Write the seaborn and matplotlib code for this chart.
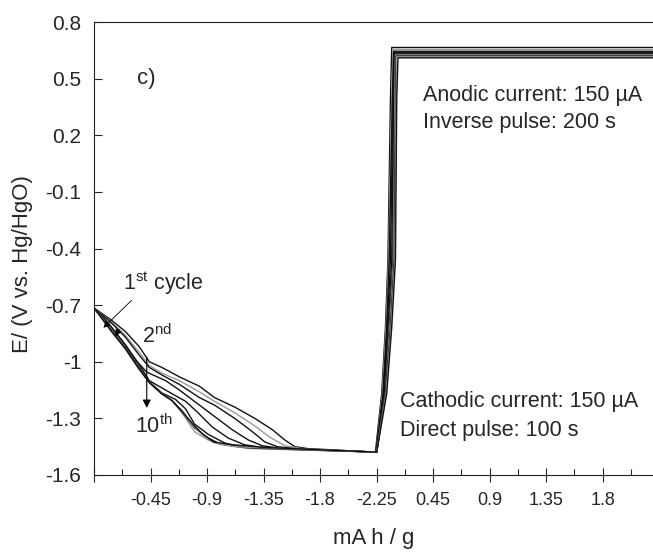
import matplotlib
matplotlib.use("Agg")
import matplotlib.pyplot as plt
import numpy as np
import pandas as pd
import seaborn as sns

# cumulative capacity position (cathodic 0..2.25, then anodic restarts at 2.25)
c1_x = [0, 0.14, 0.25, 0.36, 0.44, 0.54, 0.68, 0.84, 0.96, 1.12, 1.28, 1.42, 1.52, 1.60, 1.70, 2.22, 2.24, 2.29, 2.32, 2.34, 2.36, 2.37, 4.6]
c1_e = [-0.715, -0.78, -0.84, -0.92, -1.00, -1.03, -1.08, -1.13, -1.19, -1.24, -1.30, -1.36, -1.415, -1.45, -1.46, -1.478, -1.48, -1.17, -0.82, -0.46, 0.39, 0.665, 0.665]
c2_x = [0, 0.14, 0.25, 0.36, 0.44, 0.54, 0.68, 0.84, 0.96, 1.12, 1.28, 1.40, 1.52, 1.65, 2.22, 2.245, 2.295, 2.325, 2.345, 2.37, 2.38, 4.6]
c2_e = [-0.715, -0.79, -0.86, -0.95, -1.02, -1.06, -1.10, -1.16, -1.21, -1.27, -1.34, -1.40, -1.445, -1.46, -1.478, -1.48, -1.17, -0.82, -0.46, 0.39, 0.655, 0.655]
c3_x = [0, 0.14, 0.25, 0.36, 0.44, 0.54, 0.68, 0.84, 0.96, 1.12, 1.26, 1.36, 1.46, 1.60, 2.22, 2.245, 2.30, 2.33, 2.35, 2.375, 2.385, 4.6]
c3_e = [-0.715, -0.795, -0.87, -0.965, -1.03, -1.07, -1.12, -1.19, -1.23, -1.30, -1.37, -1.425, -1.45, -1.46, -1.478, -1.48, -1.17, -0.82, -0.46, 0.39, 0.645, 0.645]
c4_x = [0, 0.12, 0.22, 0.33, 0.42, 0.57, 0.68, 0.84, 0.96, 1.10, 1.23, 1.34, 1.50, 2.22, 2.245, 2.305, 2.335, 2.36, 2.38, 2.39, 4.6]
c4_e = [-0.715, -0.80, -0.885, -0.99, -1.055, -1.10, -1.15, -1.23, -1.29, -1.36, -1.415, -1.445, -1.46, -1.478, -1.48, -1.17, -0.82, -0.46, 0.39, 0.64, 0.64]
c5_x = [0, 0.14, 0.25, 0.36, 0.44, 0.57, 0.73, 0.82, 0.94, 1.07, 1.20, 1.40, 2.22, 2.25, 2.31, 2.34, 2.37, 2.385, 2.395, 4.6]
c5_e = [-0.715, -0.82, -0.91, -1.015, -1.10, -1.15, -1.21, -1.265, -1.345, -1.405, -1.44, -1.46, -1.478, -1.48, -1.17, -0.82, -0.46, 0.39, 0.635, 0.635]
c6_x = [0, 0.14, 0.25, 0.36, 0.44, 0.54, 0.65, 0.73, 0.80, 0.91, 1.04, 1.15, 1.35, 2.22, 2.25, 2.315, 2.35, 2.38, 2.39, 2.40, 4.6]
c6_e = [-0.715, -0.83, -0.93, -1.03, -1.105, -1.165, -1.20, -1.25, -1.33, -1.385, -1.43, -1.45, -1.46, -1.478, -1.48, -1.17, -0.82, -0.46, 0.39, 0.63, 0.63]
c7_x = [0, 0.14, 0.25, 0.36, 0.44, 0.54, 0.62, 0.70, 0.80, 0.91, 1.02, 1.25, 2.22, 2.25, 2.32, 2.355, 2.385, 2.395, 2.40, 4.6]
c7_e = [-0.715, -0.83, -0.93, -1.035, -1.11, -1.17, -1.205, -1.27, -1.37, -1.415, -1.44, -1.46, -1.478, -1.48, -1.17, -0.82, -0.46, 0.39, 0.625, 0.625]
c8_x = [0, 0.14, 0.25, 0.36, 0.44, 0.54, 0.62, 0.70, 0.80, 0.90, 1.00, 1.20, 2.22, 2.25, 2.32, 2.36, 2.39, 2.40, 2.405, 4.6]
c8_e = [-0.715, -0.835, -0.93, -1.035, -1.11, -1.17, -1.205, -1.265, -1.35, -1.40, -1.435, -1.455, -1.478, -1.48, -1.17, -0.82, -0.46, 0.39, 0.62, 0.62]
c9_x = [0, 0.14, 0.25, 0.36, 0.44, 0.54, 0.62, 0.70, 0.78, 0.87, 0.96, 1.12, 2.22, 2.25, 2.325, 2.365, 2.395, 2.405, 2.41, 4.6]
c9_e = [-0.715, -0.84, -0.935, -1.04, -1.11, -1.17, -1.205, -1.26, -1.33, -1.39, -1.43, -1.45, -1.478, -1.48, -1.17, -0.82, -0.46, 0.39, 0.615, 0.615]
c10_x = [0, 0.14, 0.25, 0.36, 0.44, 0.54, 0.62, 0.70, 0.78, 0.86, 0.95, 1.11, 1.38, 2.22, 2.25, 2.33, 2.37, 2.40, 2.41, 2.42, 4.6]
c10_e = [-0.715, -0.84, -0.93, -1.04, -1.11, -1.17, -1.205, -1.26, -1.325, -1.38, -1.425, -1.44, -1.455, -1.478, -1.48, -1.17, -0.82, -0.46, 0.39, 0.61, 0.61]

cycles_x = [c1_x, c2_x, c3_x, c4_x, c5_x, c6_x, c7_x, c8_x, c9_x, c10_x]
cycles_e = [c1_e, c2_e, c3_e, c4_e, c5_e, c6_e, c7_e, c8_e, c9_e, c10_e]
cycle_names = [str(i) for i in range(1, 11)]
cycle_colors = ["#111111", "#9a9a9a", "#111111", "#111111", "#111111",
                "#111111", "#9a9a9a", "#111111", "#9a9a9a", "#111111"]

xtick_pos = [0, 0.45, 0.9, 1.35, 1.8, 2.25, 2.7, 3.15, 3.6, 4.05]
xtick_labels = ["", "-0.45", "-0.9", "-1.35", "-1.8", "-2.25", "0.45", "0.9", "1.35", "1.8"]
ytick_pos = [0.8, 0.5, 0.2, -0.1, -0.4, -0.7, -1.0, -1.3, -1.6]
ytick_labels = ["0.8", "0.5", "0.2", "-0.1", "-0.4", "-0.7", "-1", "-1.3", "-1.6"]

rows = []
for name, xs, es in zip(cycle_names, cycles_x, cycles_e):
    for i, (x, e) in enumerate(zip(xs, es)):
        rows.append({"cycle": name, "order": i, "cap": x, "E": e})
df = pd.DataFrame(rows)

sns.set_style("ticks")
plt.rcParams["font.family"] = ["Liberation Sans", "DejaVu Sans"]
plt.rcParams["mathtext.fontset"] = "custom"
plt.rcParams["mathtext.rm"] = "Liberation Sans"
plt.rcParams["mathtext.it"] = "Liberation Sans:italic"

fig = plt.figure(figsize=(6.53, 5.52), dpi=100)
ax = fig.add_axes([94 / 653, 77 / 552, 559 / 653, 453 / 552])

sns.lineplot(
    data=df,
    x="cap",
    y="E",
    hue="cycle",
    hue_order=cycle_names,
    palette=dict(zip(cycle_names, cycle_colors)),
    units="cycle",
    estimator=None,
    sort=False,
    linewidth=1.0,
    legend=False,
    ax=ax,
)

ax.set_xlim(0, 4.45)
ax.set_ylim(-1.6, 0.8)
ax.set_xticks(xtick_pos)
ax.set_xticklabels(xtick_labels, fontsize=13)
ax.set_xticks([0.225 + 0.45 * k for k in range(10)], minor=True)
ax.set_yticks(ytick_pos)
ax.set_yticklabels(ytick_labels, fontsize=15)
ax.tick_params(axis="x", which="major", direction="inout", length=10, width=0.8, pad=7)
ax.tick_params(axis="x", which="minor", direction="in", length=4, width=0.8)
ax.tick_params(axis="y", which="major", direction="in", length=6, width=0.8, pad=9)
ax.spines["right"].set_visible(False)
for s in ["left", "bottom", "top"]:
    ax.spines[s].set_linewidth(0.8)
    ax.spines[s].set_color("#222222")

ax.set_xlabel("mA h / g", fontsize=16, labelpad=14)
ax.set_ylabel("E/ (V vs. Hg/HgO)", fontsize=16)
ax.yaxis.set_label_coords(-0.11, 0.465)

ax.text(0.34, 0.50, "c)", fontsize=16, ha="left", va="center")
ax.text(2.62, 0.413, "Anodic current: 150 \u00b5A", fontsize=15.5, ha="left", va="center")
ax.text(2.62, 0.270, "Inverse pulse: 200 s", fontsize=15.5, ha="left", va="center")
ax.text(2.436, -1.213, "Cathodic current: 150 \u00b5A", fontsize=15.5, ha="left", va="center")
ax.text(2.436, -1.362, "Direct pulse: 100 s", fontsize=15.5, ha="left", va="center")

ax.annotate("1$^{\\rm st}$ cycle", xy=(0.075, -0.82), xytext=(0.23, -0.62),
            fontsize=15.5, ha="left", va="baseline",
            arrowprops=dict(arrowstyle="-|>", color="k", lw=0.6, mutation_scale=10,
                            shrinkA=0, shrinkB=0, relpos=(0.15, 0.0)))
ax.annotate("", xy=(0.17, -0.865), xytext=(0.2, -0.83),
            arrowprops=dict(arrowstyle="-|>", color="k", lw=0.6, mutation_scale=10,
                            shrinkA=0, shrinkB=0))
ax.text(0.38, -0.90, "2$^{\\rm nd}$", fontsize=15.5, ha="left", va="baseline")
ax.text(0.326, -1.378, "10$^{\\rm th}$", fontsize=15.5, ha="left", va="baseline")
ax.annotate("", xy=(0.42, -1.245), xytext=(0.42, -0.975),
            arrowprops=dict(arrowstyle="-|>", color="k", lw=0.8, mutation_scale=12,
                            shrinkA=0, shrinkB=0))

fig.savefig("out.png", dpi=100)
